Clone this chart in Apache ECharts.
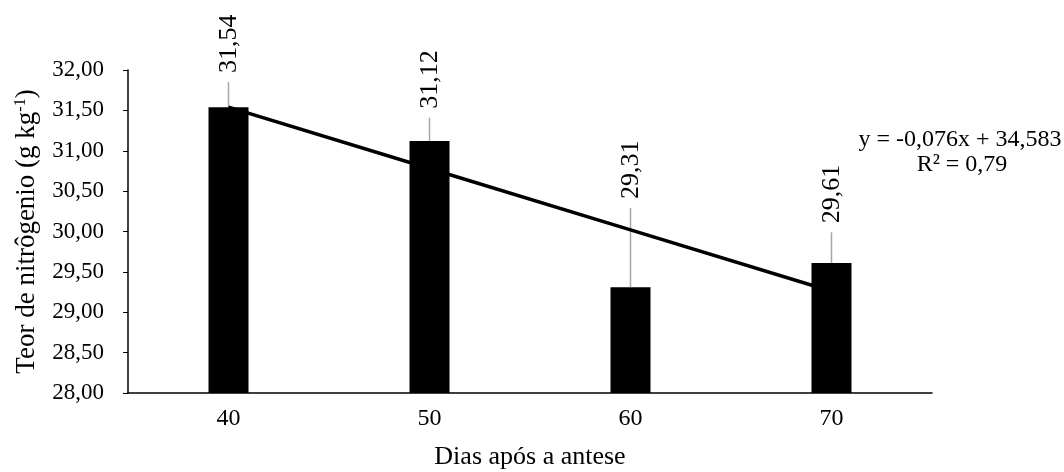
<!DOCTYPE html>
<html>
<head>
<meta charset="utf-8">
<script src="https://cdn.jsdelivr.net/npm/echarts@6/dist/echarts.min.js"></script>
<style>
  html, body { margin: 0; padding: 0; background: #fff; }
  #chart { width: 1064px; height: 472px; }
</style>
</head>
<body>
<div id="chart"></div>
<script>
// dados
var dias = ['40', '50', '60', '70'];
var teor = [31.54, 31.12, 29.31, 29.61];
var erro = [0.31, 0.29, 0.98, 0.38];
var tendencia = [31.54, 30.78, 30.02, 29.26];
var rotulos = ['31,54', '31,12', '29,31', '29,61'];
var equacao = ['y = -0,076x + 34,583', 'R² = 0,79'];

var fonte = 'Liberation Serif, Times New Roman, serif';
var chart = echarts.init(document.getElementById('chart'));

// barras de erro (só a metade de cima) + rótulo vertical
function barraErro(params, api) {
    var i = api.value(0);
    var p0 = api.coord([i, api.value(1)]);
    var p1 = api.coord([i, api.value(1) + api.value(2)]);
    return {
        type: 'group',
        children: [
            {
                type: 'line',
                shape: { x1: p0[0], y1: p0[1], x2: p1[0], y2: p1[1] },
                style: { stroke: '#a6a6a6', lineWidth: 1.5 }
            },
            {
                type: 'text',
                x: p1[0] + 1,
                y: p1[1] - 9,
                rotation: Math.PI / 2,
                style: {
                    text: rotulos[params.dataIndex],
                    align: 'left',
                    verticalAlign: 'middle',
                    font: '26px ' + fonte,
                    fill: '#000'
                }
            }
        ]
    };
}

chart.setOption({
    animation: false,
    grid: { left: 128, right: 132, top: 70, bottom: 79, containLabel: false, outerBoundsMode: 'none' },
    xAxis: {
        type: 'category',
        data: dias,
        name: 'Dias após a antese',
        nameLocation: 'middle',
        nameGap: 51,
        nameTextStyle: { fontFamily: fonte, fontSize: 26, color: '#000' },
        axisLine: { lineStyle: { color: '#000', width: 1.5 } },
        axisTick: { show: false },
        axisLabel: { fontFamily: fonte, fontSize: 24, color: '#000', margin: 14 }
    },
    yAxis: {
        type: 'value',
        min: 28,
        max: 32,
        interval: 0.5,
        name: '{n|Teor de nitrôgenio (g kg}{s|-1}{n|)}',
        nameLocation: 'middle',
        nameRotate: 90,
        nameGap: 88,
        nameTextStyle: {
            rich: {
                n: { fontFamily: fonte, fontSize: 27, color: '#000' },
                s: { fontFamily: fonte, fontSize: 16, color: '#000', verticalAlign: 'top', padding: [0, 0, 10, 0] }
            }
        },
        splitLine: { show: false },
        axisLine: { show: true, lineStyle: { color: '#000', width: 1.5 } },
        axisTick: { show: true, length: 5, lineStyle: { color: '#000' } },
        axisLabel: {
            fontFamily: fonte, fontSize: 23, color: '#000', margin: 24,
            formatter: function (v) { return v.toFixed(2).replace('.', ','); }
        }
    },
    series: [
        {
            type: 'bar',
            data: teor,
            barWidth: 40,
            itemStyle: { color: '#000' },
            z: 2
        },
        {
            type: 'custom',
            renderItem: barraErro,
            data: teor.map(function (v, i) { return [i, v, erro[i]]; }),
            z: 3
        },
        {
            type: 'line',
            data: tendencia,
            symbol: 'none',
            lineStyle: { color: '#000', width: 3.5 },
            z: 4
        }
    ],
    graphic: [
        {
            type: 'text', x: 960, y: 140,
            style: { text: equacao[0], align: 'center', verticalAlign: 'middle', font: '24px ' + fonte, fill: '#000' }
        },
        {
            type: 'text', x: 962, y: 165,
            style: { text: equacao[1], align: 'center', verticalAlign: 'middle', font: '24px ' + fonte, fill: '#000' }
        }
    ]
});
</script>
</body>
</html>
